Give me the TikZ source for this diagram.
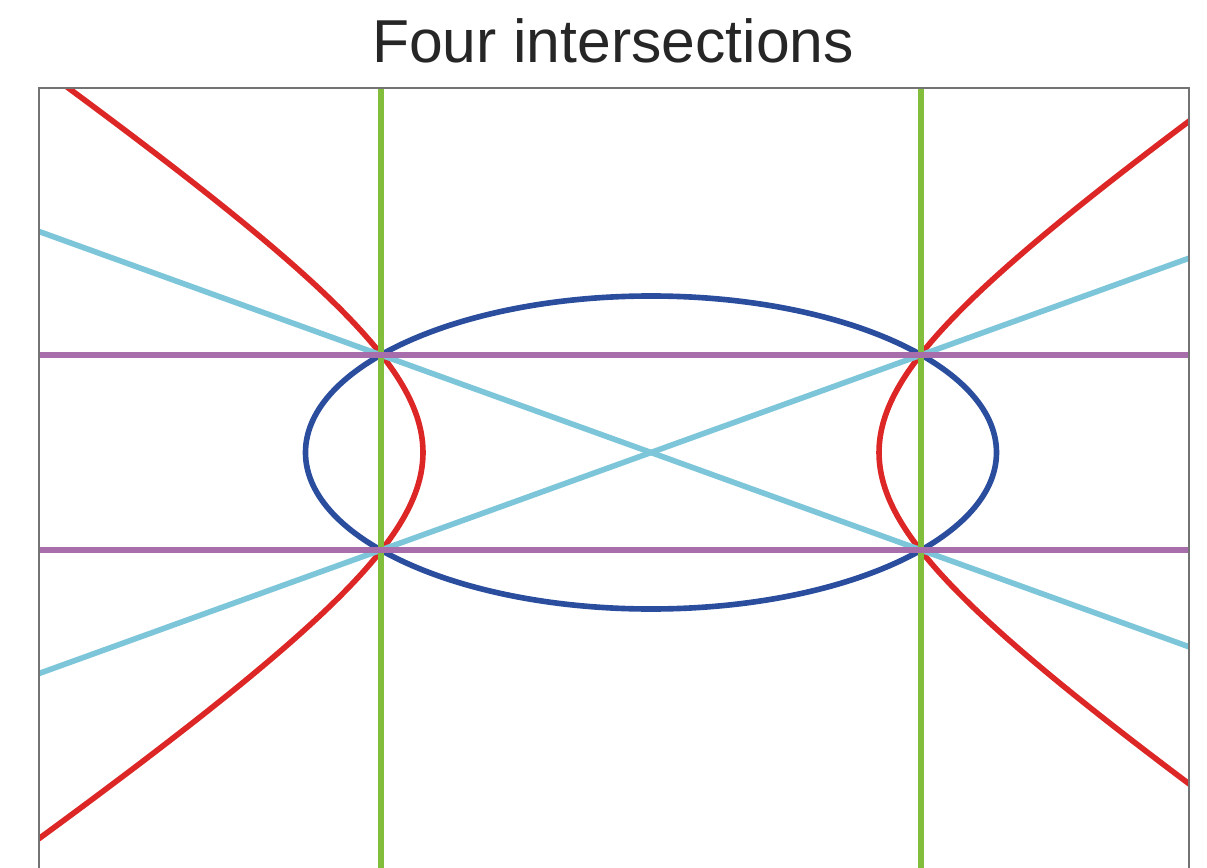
\documentclass[tikz,border=0pt]{standalone}
\usepackage{fontspec}
\setmainfont{Liberation Sans}
\usetikzlibrary{calc}

\definecolor{hypred}{RGB}{221,39,39}
\definecolor{ellblue}{RGB}{42,77,158}
\definecolor{diagcyan}{RGB}{125,198,218}
\definecolor{horzpurple}{RGB}{168,110,172}
\definecolor{vertgreen}{RGB}{130,190,60}

\begin{document}
\begin{tikzpicture}[
    x=0.02cm, y=-0.02cm,
    plot title/.style={
        anchor=base,
        inner sep=0pt,
        font=\fontsize{34.5}{38}\selectfont,
        text=black!85
    },
    frame/.style={
        draw=black!55,
        line width=0.8pt
    },
    curve/.style={
        line width=3.2pt
    },
    guide/.style={
        line width=3.8pt
    }
]

\useasboundingbox (0,0) rectangle (1207,868);

\node[plot title] (title) at (613,63) {Four intersections};

% corners of the plot area and the four crossing points
\coordinate (frameNW) at (39,88);
\coordinate (frameSE) at (1189,900);
\coordinate (upperL) at (381,355);
\coordinate (upperR) at (921,355);
\coordinate (lowerL) at (381,550);
\coordinate (lowerR) at (921,550);

\begin{scope}
    \clip (frameNW) rectangle (frameSE);
    \draw[curve, hypred] plot[domain=-1.7:1.7, samples=80, smooth]
        ({651-228*cosh(\x)},{452.5+155*sinh(\x)});
    \draw[curve, hypred] plot[domain=-1.7:1.7, samples=80, smooth]
        ({651+228*cosh(\x)},{452.5+155*sinh(\x)});
    \draw[curve, diagcyan] ($(upperL)!-3!(lowerR)$) -- ($(lowerR)!-3!(upperL)$);
    \draw[curve, diagcyan] ($(lowerL)!-3!(upperR)$) -- ($(upperR)!-3!(lowerL)$);
    \draw[curve, ellblue] (651,452.5) ellipse [x radius=345.5, y radius=156.5];
    \draw[guide, vertgreen] ($(upperL)!-3!(lowerL)$) -- ($(lowerL)!-3!(upperL)$);
    \draw[guide, vertgreen] ($(upperR)!-3!(lowerR)$) -- ($(lowerR)!-3!(upperR)$);
    \draw[guide, horzpurple] ($(upperL)!-3!(upperR)$) -- ($(upperR)!-3!(upperL)$);
    \draw[guide, horzpurple] ($(lowerL)!-3!(lowerR)$) -- ($(lowerR)!-3!(lowerL)$);
\end{scope}

\draw[frame] (frameNW) rectangle (frameSE);

\end{tikzpicture}
\end{document}
